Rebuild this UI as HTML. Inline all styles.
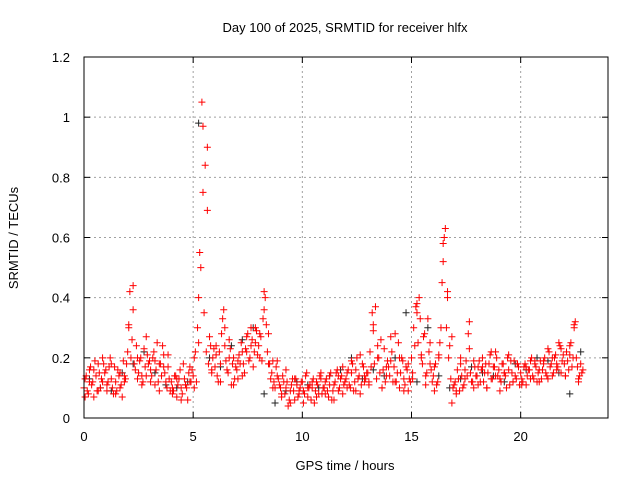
<!DOCTYPE html>
<html><head><meta charset="utf-8"><style>
body{margin:0;background:#fff;width:640px;height:480px;overflow:hidden}
svg{font-family:"Liberation Sans",sans-serif;font-size:13px}
</style></head><body>
<svg id="chart" width="640" height="480" viewBox="0 0 640 480" xmlns="http://www.w3.org/2000/svg">
<text x="345" y="32" text-anchor="middle">Day 100 of 2025, SRMTID for receiver hlfx</text>
<text x="345" y="470" text-anchor="middle">GPS time / hours</text>
<text transform="translate(18,238) rotate(-90)" text-anchor="middle">SRMTID / TECUs</text>
<g id="grid"></g>
<g id="ticks"></g>
<g id="marks"></g>
<rect x="84" y="57" width="524" height="361" fill="none" stroke="#000" stroke-width="1"/>
</svg>
<script>
const xTicks=[0,5,10,15,20];
const yTicks=[0,0.2,0.4,0.6,0.8,1,1.2];
const yTickLabels=["0","0.2","0.4","0.6","0.8","1","1.2"];
const seriesA=[0.10,0.14,0.08,0.17,0.12,0.19,0.09,0.15,0.13,0.18,
0.16,0.12,0.20,0.10,0.17,0.09,0.14,0.11,0.19,0.13,
0.22,0.42,0.26,0.18,0.24,0.15,0.20,0.12,0.17,0.21,
0.19,0.14,0.22,0.16,0.12,0.18,0.24,0.15,0.10,0.13,
0.12,0.09,0.14,0.11,0.16,0.08,0.13,0.10,0.15,0.12,
0.14,0.22,0.30,0.55,1.05,0.35,0.22,0.18,0.24,0.20,
0.17,0.14,0.22,0.28,0.36,0.19,0.15,0.23,0.18,0.13,
0.16,0.21,0.25,0.18,0.23,0.28,0.20,0.26,0.22,0.29,
0.24,0.27,0.33,0.40,0.22,0.18,0.15,0.12,0.17,0.13,
0.10,0.14,0.08,0.12,0.06,0.11,0.09,0.13,0.07,0.10,
0.12,0.08,0.15,0.10,0.06,0.13,0.09,0.11,0.14,0.08,
0.10,0.13,0.07,0.15,0.09,0.12,0.16,0.10,0.14,0.11,
0.13,0.16,0.10,0.18,0.12,0.20,0.14,0.11,0.17,0.13,
0.15,0.22,0.35,0.18,0.13,0.20,0.26,0.16,0.12,0.19,
0.14,0.22,0.17,0.12,0.25,0.15,0.19,0.11,0.16,0.13,
0.20,0.30,0.37,0.25,0.33,0.18,0.28,0.15,0.22,0.16,
0.14,0.18,0.12,0.25,0.45,0.60,0.30,0.20,0.13,0.10,
0.12,0.16,0.09,0.14,0.11,0.19,0.28,0.15,0.12,0.17,
0.14,0.19,0.16,0.12,0.18,0.15,0.21,0.13,0.17,0.20,
0.16,0.12,0.18,0.14,0.20,0.11,0.15,0.19,0.13,0.17,
0.15,0.12,0.18,0.14,0.16,0.20,0.13,0.17,0.15,0.19,
0.16,0.20,0.14,0.22,0.18,0.15,0.21,0.17,0.24,0.19,
0.18,0.22,0.16,0.25,0.20,0.32,0.17,0.14,0.15];
const seriesB=[0.07,0.12,0.16,0.09,0.20,0.11,0.18,0.08,0.15,0.12,
0.30,0.36,0.20,0.14,0.27,0.12,0.19,0.09,0.17,0.21,
0.08,0.13,0.06,0.11,0.17,0.10,0.25,0.75,0.90,0.16,
0.24,0.12,0.30,0.20,0.11,0.19,0.14,0.22,0.30,0.25,
0.20,0.36,0.28,0.10,0.19,0.08,0.16,0.05,0.13,0.09,
0.05,0.10,0.12,0.07,0.13,0.08,0.11,0.06,0.14,0.17,
0.10,0.15,0.09,0.21,0.14,0.11,0.31,0.24,0.10,0.17,
0.27,0.12,0.20,0.09,0.18,0.13,0.38,0.20,0.11,0.25,
0.09,0.20,0.52,0.40,0.05,0.08,0.20,0.13,0.23,0.10,
0.11,0.17,0.10,0.22,0.14,0.09,0.15,0.21,0.12,0.18,
0.11,0.17,0.13,0.19,0.12,0.18,0.13,0.20,0.16,0.23,
0.14,0.21,0.30,0.12];
const seriesC=[0.13,0.09,0.16,0.11,0.07,0.14,0.18,0.10,0.12,0.15,
0.09,0.17,0.13,0.08,0.12,0.16,0.10,0.07,0.14,0.18,
0.31,0.20,0.44,0.16,0.13,0.19,0.11,0.23,0.14,0.18,
0.16,0.20,0.11,0.25,0.18,0.14,0.21,0.12,0.17,0.09,
0.10,0.14,0.07,0.13,0.10,0.18,0.11,0.06,0.12,0.16,
0.20,0.12,0.40,0.50,0.97,0.84,0.69,0.27,0.15,0.23,
0.21,0.12,0.18,0.33,0.24,0.16,0.26,0.11,0.20,0.17,
0.13,0.18,0.22,0.15,0.27,0.19,0.24,0.17,0.30,0.21,
0.28,0.19,0.42,0.31,0.18,0.13,0.19,0.10,0.14,0.11,
0.07,0.12,0.10,0.04,0.09,0.13,0.06,0.11,0.08,0.12,
0.09,0.14,0.07,0.11,0.10,0.05,0.12,0.08,0.15,0.10,
0.12,0.09,0.14,0.06,0.11,0.15,0.09,0.13,0.08,0.12,
0.15,0.11,0.19,0.09,0.16,0.13,0.08,0.18,0.12,0.15,
0.12,0.17,0.29,0.37,0.20,0.15,0.10,0.23,0.14,0.17,
0.19,0.12,0.28,0.15,0.10,0.20,0.13,0.17,0.09,0.12,
0.15,0.24,0.35,0.40,0.21,0.27,0.14,0.33,0.18,0.12,
0.17,0.11,0.21,0.30,0.58,0.63,0.42,0.24,0.27,0.11,
0.09,0.13,0.18,0.10,0.16,0.14,0.32,0.12,0.19,0.14,
0.17,0.12,0.20,0.15,0.10,0.18,0.13,0.17,0.22,0.14,
0.13,0.18,0.15,0.10,0.16,0.19,0.12,0.14,0.18,0.11,
0.13,0.17,0.11,0.16,0.19,0.14,0.18,0.12,0.16,0.13,
0.19,0.15,0.23,0.17,0.14,0.20,0.18,0.25,0.15,0.21,
0.14,0.19,0.24,0.17,0.31,0.20,0.13,0.18,0.16];
const seriesBlack=[0.13,0.10,0.09,0.15,0.18,0.22,0.15,0.11,0.10,0.12,0.98,0.20,0.17,0.24,0.26,0.30,0.08,0.05,0.09,0.12,0.11,0.10,0.14,0.16,0.20,0.13,0.16,0.14,0.20,0.35,0.12,0.30,0.14,0.10,0.13,0.17,0.15,0.14,0.12,0.18,0.16,0.20,0.19,0.15,0.08,0.22];
const stepA=0.1, stepB=0.2, startB=0.05, stepC=0.1, startC=0.05, stepK=0.5, startK=0.25;

const X0=84,X1=608,Y0=418,Y1=57,XMAX=24,YMAX=1.2;
const xs=v=>X0+(v/XMAX)*(X1-X0);
const ys=v=>Y0-(v/YMAX)*(Y0-Y1);
const NS="http://www.w3.org/2000/svg";
const grid=document.getElementById('grid'),ticks=document.getElementById('ticks'),marks=document.getElementById('marks');
function line(p,x1,y1,x2,y2,st,dash){const l=document.createElementNS(NS,'line');l.setAttribute('x1',x1);l.setAttribute('y1',y1);l.setAttribute('x2',x2);l.setAttribute('y2',y2);l.setAttribute('stroke',st);if(dash)l.setAttribute('stroke-dasharray',dash);p.appendChild(l);return l;}
xTicks.forEach(t=>{const x=xs(t);
 if(t>0){const g=line(grid,x,Y0,x,Y1,'#a0a0a0','2,3');
 
 }
 line(ticks,x,Y0,x,Y0-6,'#000');line(ticks,x,Y1,x,Y1+6,'#000');
 const tx=document.createElementNS(NS,'text');tx.setAttribute('x',x);tx.setAttribute('y',Y0+23);tx.setAttribute('text-anchor','middle');tx.textContent=t;
 
 
 ticks.appendChild(tx);});
yTicks.forEach((t,i)=>{const y=ys(t);
 if(t>0&&t<YMAX){const g=line(grid,X0,y,X1,y,'#a0a0a0','2,3');
 
 }
 line(ticks,X0,y,X0+6,y,'#000');line(ticks,X1,y,X1-6,y,'#000');
 const tx=document.createElementNS(NS,'text');tx.setAttribute('x',X0-14);tx.setAttribute('y',y+5);tx.setAttribute('text-anchor','end');tx.textContent=yTickLabels[i];
 
 
 ticks.appendChild(tx);});
function plus(t,v,col,name){const x=xs(t),y=ys(v);const p=document.createElementNS(NS,'path');
 p.setAttribute('d',`M${x-3.5},${y}H${x+3.5}M${x},${y-3.5}V${y+3.5}`);p.setAttribute('stroke',col);p.setAttribute('fill','none');
 
 
 marks.appendChild(p);}
seriesBlack.forEach((v,i)=>plus(startK+i*stepK,v,'#222','black-point'));
seriesB.forEach((v,i)=>plus(startB+i*stepB,v,'#ff0000','red-point'));
seriesC.forEach((v,i)=>plus(startC+i*stepC,v,'#ff0000','red-point'));
seriesA.forEach((v,i)=>plus(i*stepA,v,'#ff0000','red-point'));
</script>
</body></html>
